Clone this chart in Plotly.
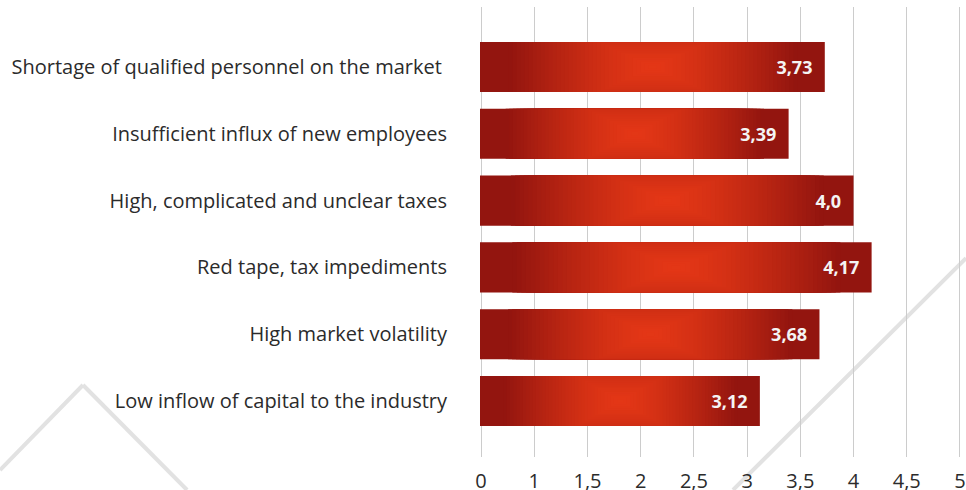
import plotly.graph_objects as go

# ---- data ----
categories = [
    "Shortage of qualified personnel on the market ",
    "Insufficient influx of new employees",
    "High, complicated and unclear taxes",
    "Red tape, tax impediments",
    "High market volatility",
    "Low inflow of capital to the industry",
]
values = [3.73, 3.39, 4.0, 4.17, 3.68, 3.12]
value_labels = ["3,73", "3,39", "4,0", "4,17", "3,68", "3,12"]
tick_vals = [0.5, 1, 1.5, 2, 2.5, 3, 3.5, 4, 4.5, 5]
tick_text = ["0", "1", "1,5", "2", "2,5", "3", "3,5", "4", "4,5", "5"]

# ---- style ----
AXIS_START = 0.5
BAR_W = 0.75
DARK = (0x93, 0x15, 0x0F)
BRIGHT = (0xE4, 0x37, 0x16)
N_LAYERS = 36
RX_FRAC = 0.42   # horizontal gradient radius, fraction of visible bar length
RY = 1.0         # vertical gradient radius in category units
FONT = "Open Sans"


def lerp(a, b, t):
    return "rgb(%d,%d,%d)" % tuple(round(a[i] + (b[i] - a[i]) * t) for i in range(3))


fig = go.Figure()

# base dark bars
fig.add_trace(go.Bar(
    y=categories, x=values, orientation="h", width=BAR_W,
    marker=dict(color=lerp(DARK, DARK, 0), line=dict(width=0)),
    hoverinfo="skip", showlegend=False,
))

# radial-like gradient layers
for k in range(N_LAYERS):
    s = 1 - k / N_LAYERS
    centers = [(AXIS_START + v) / 2 for v in values]
    halfs = [RX_FRAC * (v - AXIS_START) * s for v in values]
    thick = min(BAR_W, 2 * RY * s)
    fig.add_trace(go.Bar(
        y=categories,
        x=[2 * h for h in halfs],
        base=[c - h for c, h in zip(centers, halfs)],
        orientation="h", width=thick,
        marker=dict(color=lerp(DARK, BRIGHT, 1 - s ** 1.4), line=dict(width=0)),
        hoverinfo="skip", showlegend=False,
    ))

# value labels
fig.add_trace(go.Bar(
    y=categories, x=values, orientation="h", width=BAR_W,
    marker=dict(color="rgba(0,0,0,0)", line=dict(width=0)),
    text=[t + "\u00a0\u00a0" for t in value_labels],
    textposition="inside", insidetextanchor="end",
    textfont=dict(family=FONT, size=18, color="#f4f4f4", weight="bold"),
    hoverinfo="skip", showlegend=False,
))

# decorative background lines
line_style = dict(color="#e2e2e2", width=4)
for (x0, y0, x1, y1) in [(-0.998, -0.029, -0.8254, 0.16),
                         (-0.8254, 0.16, -0.609, -0.0733),
                         (0.526, -0.0733, 1.0104, 0.442)]:
    fig.add_shape(type="line", xref="paper", yref="paper",
                  x0=x0, y0=y0, x1=x1, y1=y1, line=line_style, layer="below")

fig.update_layout(
    width=966, height=490,
    margin=dict(l=480, r=5, t=7, b=33),
    barmode="overlay",
    paper_bgcolor="white", plot_bgcolor="white",
    font=dict(family=FONT, color="#2b2b2b"),
    xaxis=dict(
        range=[0.49, 5.01], tickvals=tick_vals, ticktext=tick_text,
        showgrid=True, gridcolor="#cccccc", gridwidth=1.2,
        zeroline=False, showline=False, ticks="", automargin=False,
        tickfont=dict(family=FONT, size=20, color="#2b2b2b"),
        ticklabelstandoff=10,
    ),
    yaxis=dict(
        type="category", range=[5.838, -0.898],
        showgrid=False, zeroline=False, showline=False, ticks="", automargin=False,
        tickfont=dict(family=FONT, size=20, color="#2b2b2b"),
        ticklabelstandoff=32,
    ),
)

fig.write_html(
    "out.html",
    config={"displayModeBar": False},
    post_script="document.body.style.margin='0';document.body.style.overflow='hidden';",
)
